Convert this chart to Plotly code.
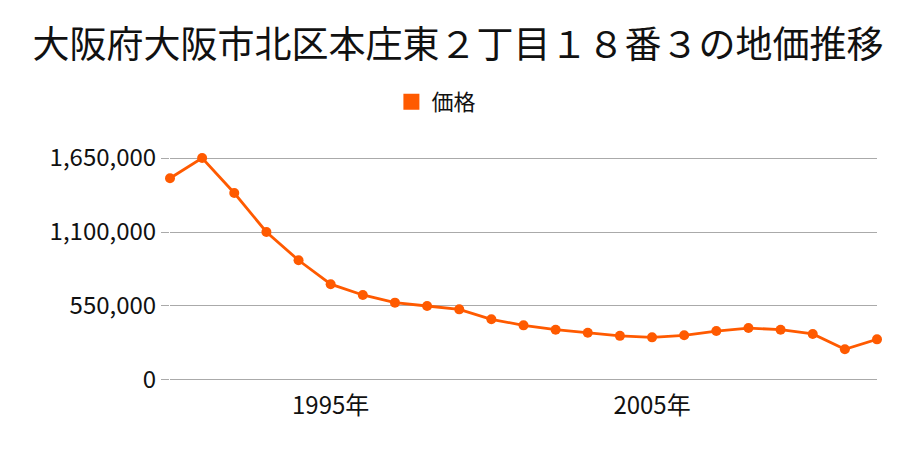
import plotly.graph_objects as go

years = list(range(1990, 2013))
prices = [1500000, 1650000, 1390000, 1100000, 890000, 712000, 632000, 575000,
          550000, 525000, 451000, 406000, 374000, 351000, 328000, 317000,
          332000, 364000, 386000, 374000, 342000, 228000, 302000]
y_ticks = [0, 550000, 1100000, 1650000]
y_tick_labels = ["0", "550,000", "1,100,000", "1,650,000"]
x_ticks = [1995, 2005]
x_tick_labels = ["1995年", "2005年"]
title = "大阪府大阪市北区本庄東２丁目１８番３の地価推移"
series_name = "価格"
color = "#ff5a00"
font = "Noto Sans CJK JP"

fig = go.Figure()
fig.add_trace(go.Scatter(
    x=years, y=prices, mode="lines+markers", name=series_name,
    line=dict(color=color, width=2.8),
    marker=dict(color=color, size=10),
    cliponaxis=False, showlegend=False,
))
fig.add_trace(go.Scatter(
    x=[None], y=[None], mode="markers", name=series_name,
    marker=dict(color=color, size=22, symbol="square"),
))

fig.update_layout(
    width=900, height=450,
    paper_bgcolor="white", plot_bgcolor="white",
    margin=dict(l=162, r=31, t=148, b=76),
    font=dict(family=font, color="#111111"),
    title=dict(text=title, x=0.5, xanchor="center", xref="container",
               y=1 - 37 / 450, yanchor="middle",
               font=dict(size=37, family=font, color="#111111")),
    legend=dict(orientation="h", xref="container", x=0.476, xanchor="center",
                yref="container", y=1 - 94 / 450, yanchor="middle",
                font=dict(size=22, family=font), itemsizing="trace"),
    xaxis=dict(range=[1990, 2012], tickvals=x_ticks, ticktext=x_tick_labels,
               showgrid=False, zeroline=False, showline=False, ticks="",
               ticklabelstandoff=7,
               tickfont=dict(size=24, family=font)),
    yaxis=dict(range=[-15000, 1665000], tickvals=y_ticks, ticktext=y_tick_labels,
               showgrid=True, gridcolor="#aaaaaa", gridwidth=1, zeroline=False,
               showline=False, ticks="outside", ticklen=8, tickcolor="#aaaaaa",
               tickfont=dict(size=24, family=font)),
)
fig.write_html("out.html")
